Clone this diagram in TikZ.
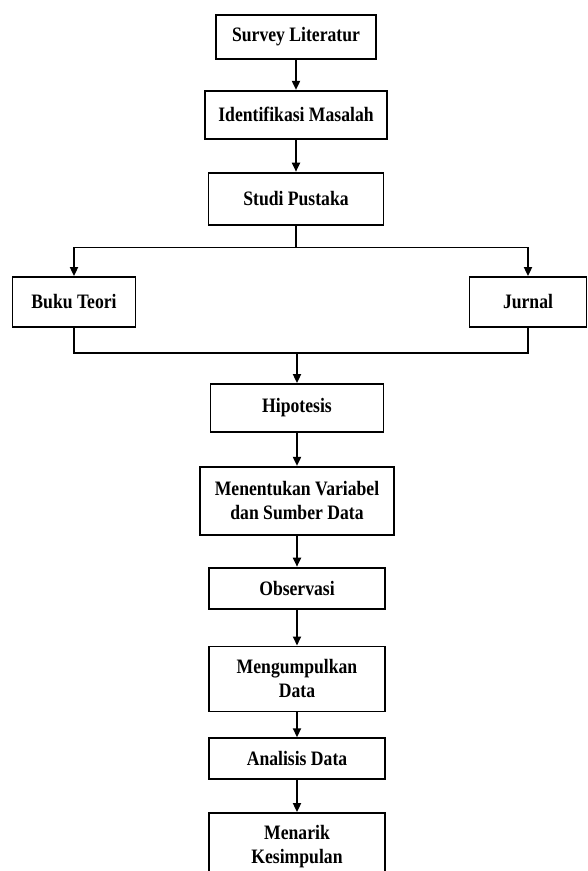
\documentclass[tikz,border=0pt]{standalone}
\usepackage{fontspec}
\setmainfont{Liberation Serif}[FakeStretch=0.86]
\usetikzlibrary{
  arrows.meta,
  positioning,
  calc
}
\tikzset{
  stepbox/.style={
    draw, line width=1.8pt, minimum width=176pt, minimum height=48pt,
    align=center, inner sep=2pt, font=\fontsize{20.5}{24}\selectfont\bfseries
  },
  flow/.style={-{Triangle[length=9pt, width=8pt]}, line width=1.8pt},
  netline/.style={line width=1.8pt}
}

\begin{document}
\begin{tikzpicture}[node distance=31pt]
  \useasboundingbox (0,0) rectangle (587pt,-871pt);
  \clip (0,0) rectangle (587pt,-871pt);
  \node[stepbox, minimum width=160pt, minimum height=44pt] (survey) at (296pt,-37pt) {Survey Literatur};
  \node[stepbox, minimum width=182pt, below=30pt of survey] (ident) {Identifikasi Masalah};
  \node[stepbox, minimum width=175pt, minimum height=52pt, below=32pt of ident] (studi) {Studi Pustaka};
  \node[stepbox, minimum width=123pt, minimum height=50pt] (buku) at (74pt,-302pt) {Buku Teori};
  \node[stepbox, minimum width=117pt, minimum height=50pt] (jurnal) at (528pt,-302pt) {Jurnal};
  \node[stepbox, minimum width=173pt] (hipo) at (297pt,-408pt) {Hipotesis};
  \node[stepbox, minimum width=194pt, minimum height=68pt, below=33pt of hipo] (variabel) {Menentukan Variabel\\dan Sumber Data};
  \node[stepbox, minimum height=41pt, below=31pt of variabel] (obs) {Observasi};
  \node[stepbox, minimum height=65pt, below=36pt of obs] (kumpul) {Mengumpulkan\\Data};
  \node[stepbox, minimum height=41pt, below=25pt of kumpul] (analisis) {Analisis Data};
  \node[stepbox, minimum height=68pt, below=32pt of analisis] (menarik) {Menarik\\Kesimpulan};

  \draw[flow] (survey) -- (ident);
  \draw[flow] (ident) -- (studi);
  \draw[netline] (studi.south) -- ++(0,-22pt) coordinate (split);
  \draw[flow] (split) -| (buku.north);
  \draw[flow] (split) -| (jurnal.north);
  \draw[netline] (buku.south) -- ++(0,-25pt) coordinate (join) -| (jurnal.south);
  \draw[flow] (join -| hipo.north) -- (hipo.north);
  \draw[flow] (hipo) -- (variabel);
  \draw[flow] (variabel) -- (obs);
  \draw[flow] (obs) -- (kumpul);
  \draw[flow] (kumpul) -- (analisis);
  \draw[flow] (analisis) -- (menarik);
\end{tikzpicture}
\end{document}
